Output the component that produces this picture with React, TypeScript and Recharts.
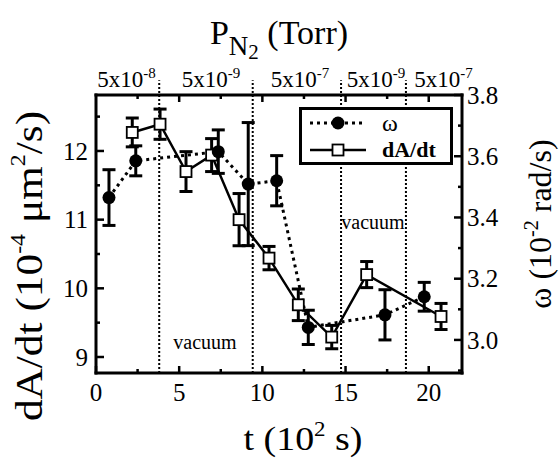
import React from 'react';
import {
  LineChart,
  Line,
  XAxis,
  YAxis,
  ErrorBar,
  ReferenceLine,
  ReferenceDot,
  Legend,
  Label,
} from 'recharts';

const FONT = '"Liberation Serif", "Times New Roman", Times, serif';

// omega series (right axis, 10^-2 rad/s)
const omegaT = [0.78, 2.39, 7.35, 9.15, 10.86, 12.76, 17.37, 19.73];
const omegaVal = [3.465, 3.585, 3.615, 3.509, 3.52, 3.041, 3.082, 3.141];
const omegaErr = [0.091, 0.049, 0.071, 0.201, 0.082, 0.056, 0.082, 0.047];

// dA/dt series (left axis, 10^-4 um^2/s)
const rateT = [2.18, 3.85, 5.41, 6.95, 8.6, 10.4, 12.16, 14.17, 16.27, 20.74];
const rateVal = [12.27, 12.39, 11.7, 11.94, 11.0, 10.44, 9.76, 9.29, 10.2, 9.59];
const rateErr = [0.21, 0.22, 0.29, 0.24, 0.38, 0.17, 0.23, 0.17, 0.19, 0.19];

// pressure segment boundaries and labels
const boundaryT = [3.8, 9.42, 14.73, 18.63];
const pressureT = [1.83, 6.91, 12.26, 16.83, 20.89];
const pressureExp = ['-8', '-9', '-7', '-9', '-7'];

const vacuumT = [6.55, 16.65];
const vacuumY = [9.22, 10.96];

const xTicks = [0, 2.5, 5, 7.5, 10, 12.5, 15, 17.5, 20];
const topTicks = [2.5, 5, 7.5, 10, 12.5, 15, 17.5, 20];
const leftTicks = [9, 9.5, 10, 10.5, 11, 11.5, 12, 12.5];
const rightTicks = [2.9, 3.0, 3.1, 3.2, 3.3, 3.4, 3.5, 3.6, 3.7, 3.8];

const X_DOMAIN = [0, 22];
const LEFT_DOMAIN = [8.767, 12.815];
const RIGHT_DOMAIN = [2.892, 3.8];
const LINE_TOP = 13.03;

const omegaData = omegaT.map((t, i) => ({ t, v: omegaVal[i], e: omegaErr[i] }));
const rateData = rateT.map((t, i) => ({ t, v: rateVal[i], e: rateErr[i] }));
const topAllTicks = [...topTicks, ...pressureT].sort((a, b) => a - b);

const BottomTick = (props: any) => {
  const { x, y, payload } = props;
  const v = payload.value;
  const major = v % 5 === 0;
  return (
    <g>
      <line x1={x} x2={x} y1={y} y2={y - (major ? 7 : 4)} stroke="#000" strokeWidth={2.5} />
      {major && (
        <text x={x} y={y + 28} textAnchor="middle" fontSize={25} fontFamily={FONT} fill="#000">
          {v}
        </text>
      )}
    </g>
  );
};

const TopTick = (props: any) => {
  const { x, y, payload } = props;
  const v = payload.value;
  const pi = pressureT.indexOf(v);
  if (pi >= 0) {
    return (
      <text x={x} y={y - 8} textAnchor="middle" fontSize={23} fontFamily={FONT} fill="#000">
        5x10
        <tspan dy={-9} fontSize={15}>
          {pressureExp[pi]}
        </tspan>
      </text>
    );
  }
  const major = v % 5 === 0;
  return <line x1={x} x2={x} y1={y} y2={y + (major ? 7 : 4)} stroke="#000" strokeWidth={2.5} />;
};

const LeftTick = (props: any) => {
  const { x, y, payload } = props;
  const v = payload.value;
  const major = Number.isInteger(v);
  return (
    <g>
      <line x1={x} x2={x + (major ? 8 : 4)} y1={y} y2={y} stroke="#000" strokeWidth={2.5} />
      {major && (
        <text x={x - 8} y={y} dy="0.35em" textAnchor="end" fontSize={25} fontFamily={FONT} fill="#000">
          {v}
        </text>
      )}
    </g>
  );
};

const RightTick = (props: any) => {
  const { x, y, payload } = props;
  const v = payload.value;
  const major = Math.round(v * 10) % 2 === 0;
  return (
    <g>
      <line x1={x} x2={x - (major ? 8 : 4)} y1={y} y2={y} stroke="#000" strokeWidth={2.5} />
      {major && (
        <text x={x + 5} y={y} dy="0.35em" textAnchor="start" fontSize={25} fontFamily={FONT} fill="#000">
          {v.toFixed(1)}
        </text>
      )}
    </g>
  );
};

const CircleDot = (props: any) => {
  const { cx, cy, index } = props;
  return <circle key={`c${index}`} cx={cx} cy={cy} r={6.5} fill="#000" />;
};

const SquareDot = (props: any) => {
  const { cx, cy, index } = props;
  return (
    <rect
      key={`s${index}`}
      x={cx - 5.5}
      y={cy - 5.5}
      width={11}
      height={11}
      fill="#fff"
      stroke="#000"
      strokeWidth={1.8}
    />
  );
};

const TopTitle = (props: any) => {
  const { viewBox } = props;
  const cx = viewBox.x + viewBox.width / 2;
  const by = viewBox.y - 11;
  return (
    <text x={cx} y={by} textAnchor="middle" fontFamily={FONT} fill="#000" fontSize={34}>
      P
      <tspan fontSize={27} dy={11}>
        N
      </tspan>
      <tspan fontSize={21} dy={4}>
        2
      </tspan>
      <tspan fontSize={34} dy={-15}>
        {' (Torr)'}
      </tspan>
    </text>
  );
};

const BottomTitle = (props: any) => {
  const { viewBox } = props;
  const cx = viewBox.x + viewBox.width / 2 + 24;
  const by = viewBox.y + 77;
  return (
    <text
      x={0}
      y={0}
      transform={`translate(${cx} ${by}) scale(1.15 1)`}
      textAnchor="middle"
      fontFamily={FONT}
      fill="#000"
      fontSize={33}
    >
      t (10
      <tspan fontSize={20} dy={-14}>
        2
      </tspan>
      <tspan dy={14}>{' s)'}</tspan>
    </text>
  );
};

const LeftTitle = (props: any) => {
  const { viewBox } = props;
  const bx = viewBox.x + 6;
  const cy = viewBox.y + viewBox.height / 2 + 32;
  return (
    <text
      x={0}
      y={0}
      transform={`translate(${bx} ${cy}) rotate(-90) scale(1.14 1)`}
      textAnchor="middle"
      fontFamily={FONT}
      fill="#000"
      fontSize={38}
    >
      dA/dt (10
      <tspan fontSize={21} dy={-17}>
        -4
      </tspan>
      <tspan dy={17}>{' μm'}</tspan>
      <tspan fontSize={21} dy={-17}>
        2
      </tspan>
      <tspan dy={17}>/s)</tspan>
    </text>
  );
};

const RightTitle = (props: any) => {
  const { viewBox } = props;
  const bx = viewBox.x + 89;
  const cy = viewBox.y + viewBox.height / 2 - 10;
  return (
    <text
      x={0}
      y={0}
      transform={`translate(${bx} ${cy}) rotate(-90)`}
      textAnchor="middle"
      fontFamily={FONT}
      fill="#000"
      fontSize={32}
    >
      ω (10
      <tspan fontSize={20} dy={-13}>
        -2
      </tspan>
      <tspan dy={13}>{' rad/s)'}</tspan>
    </text>
  );
};

const LegendBox = () => (
  <div
    style={{
      border: '3px solid #000',
      background: '#fff',
      width: 154,
      height: 58,
      boxSizing: 'border-box',
    }}
  >
    <svg width={148} height={52} style={{ display: 'block', overflow: 'visible' }}>
      <line x1={8} x2={64} y1={13} y2={13} stroke="#000" strokeWidth={3} strokeDasharray="3 4" />
      <circle cx={36} cy={13} r={6.5} fill="#000" />
      <text x={80} y={13} dy="0.35em" fontSize={24} fontFamily={FONT} fill="#000">
        ω
      </text>
      <line x1={8} x2={64} y1={40} y2={40} stroke="#000" strokeWidth={2.5} />
      <rect x={30.5} y={34.5} width={11} height={11} fill="#fff" stroke="#000" strokeWidth={1.8} />
      <text x={80} y={40} dy="0.33em" fontSize={22} fontWeight="bold" fontFamily={FONT} fill="#000">
        dA/dt
      </text>
    </svg>
  </div>
);

const axisLineStyle = { stroke: '#000', strokeWidth: 3, strokeLinecap: 'square' as const };

export default function App() {
  return (
    <div style={{ position: 'absolute', left: 0, top: 0 }}>
      <LineChart width={560} height={459} margin={{ top: 55, right: 38, bottom: 26, left: 36 }}>
        <XAxis
          xAxisId="b"
          type="number"
          dataKey="t"
          domain={X_DOMAIN}
          allowDataOverflow
          ticks={xTicks}
          interval={0}
          tickSize={0}
          tickMargin={0}
          tickLine={false}
          axisLine={axisLineStyle}
          tick={<BottomTick />}
          height={60}
          orientation="bottom"
        >
          <Label content={<BottomTitle />} />
        </XAxis>
        <XAxis
          xAxisId="top"
          type="number"
          dataKey="t"
          domain={X_DOMAIN}
          allowDataOverflow
          ticks={topAllTicks}
          interval={0}
          tickSize={0}
          tickMargin={0}
          tickLine={false}
          axisLine={axisLineStyle}
          tick={<TopTick />}
          height={40}
          orientation="top"
        >
          <Label content={<TopTitle />} />
        </XAxis>
        <YAxis
          yAxisId="left"
          type="number"
          domain={LEFT_DOMAIN}
          allowDataOverflow
          ticks={leftTicks}
          interval={0}
          tickSize={0}
          tickMargin={0}
          tickLine={false}
          axisLine={axisLineStyle}
          tick={<LeftTick />}
          width={60}
          orientation="left"
        >
          <Label content={<LeftTitle />} />
        </YAxis>
        <YAxis
          yAxisId="right"
          type="number"
          domain={RIGHT_DOMAIN}
          allowDataOverflow
          ticks={rightTicks}
          interval={0}
          tickSize={0}
          tickMargin={0}
          tickLine={false}
          axisLine={axisLineStyle}
          tick={<RightTick />}
          width={60}
          orientation="right"
        >
          <Label content={<RightTitle />} />
        </YAxis>

        {boundaryT.map((bx) => (
          <ReferenceLine
            key={`b${bx}`}
            xAxisId="b"
            yAxisId="left"
            segment={[
              { x: bx, y: LEFT_DOMAIN[0] },
              { x: bx, y: LINE_TOP },
            ]}
            ifOverflow="visible"
            stroke="#000"
            strokeWidth={2}
            strokeDasharray="2 2"
          />
        ))}

        {vacuumT.map((vx, i) => (
          <ReferenceDot
            key={`v${i}`}
            xAxisId="b"
            yAxisId="left"
            x={vx}
            y={vacuumY[i]}
            r={0}
            fill="none"
            stroke="none"
            label={{ value: 'vacuum', position: 'center', fontSize: 20, fontFamily: FONT, fill: '#000' }}
          />
        ))}

        <Line
          xAxisId="b"
          yAxisId="left"
          data={rateData}
          dataKey="v"
          type="linear"
          stroke="#000"
          strokeWidth={2.5}
          dot={SquareDot}
          activeDot={false}
          isAnimationActive={false}
        >
          <ErrorBar dataKey="e" direction="y" width={6.5} strokeWidth={3} stroke="#000" isAnimationActive={false} />
        </Line>
        <Line
          xAxisId="top"
          yAxisId="right"
          data={omegaData}
          dataKey="v"
          type="linear"
          stroke="#000"
          strokeWidth={3}
          strokeDasharray="3 4"
          dot={CircleDot}
          activeDot={false}
          isAnimationActive={false}
        >
          <ErrorBar dataKey="e" direction="y" width={6.5} strokeWidth={3} stroke="#000" isAnimationActive={false} />
        </Line>

        <Legend
          layout="horizontal"
          verticalAlign="middle"
          align="center"
          wrapperStyle={{ left: 299, top: 107, width: 154, height: 58 }}
          content={() => <LegendBox />}
        />
      </LineChart>
    </div>
  );
}
